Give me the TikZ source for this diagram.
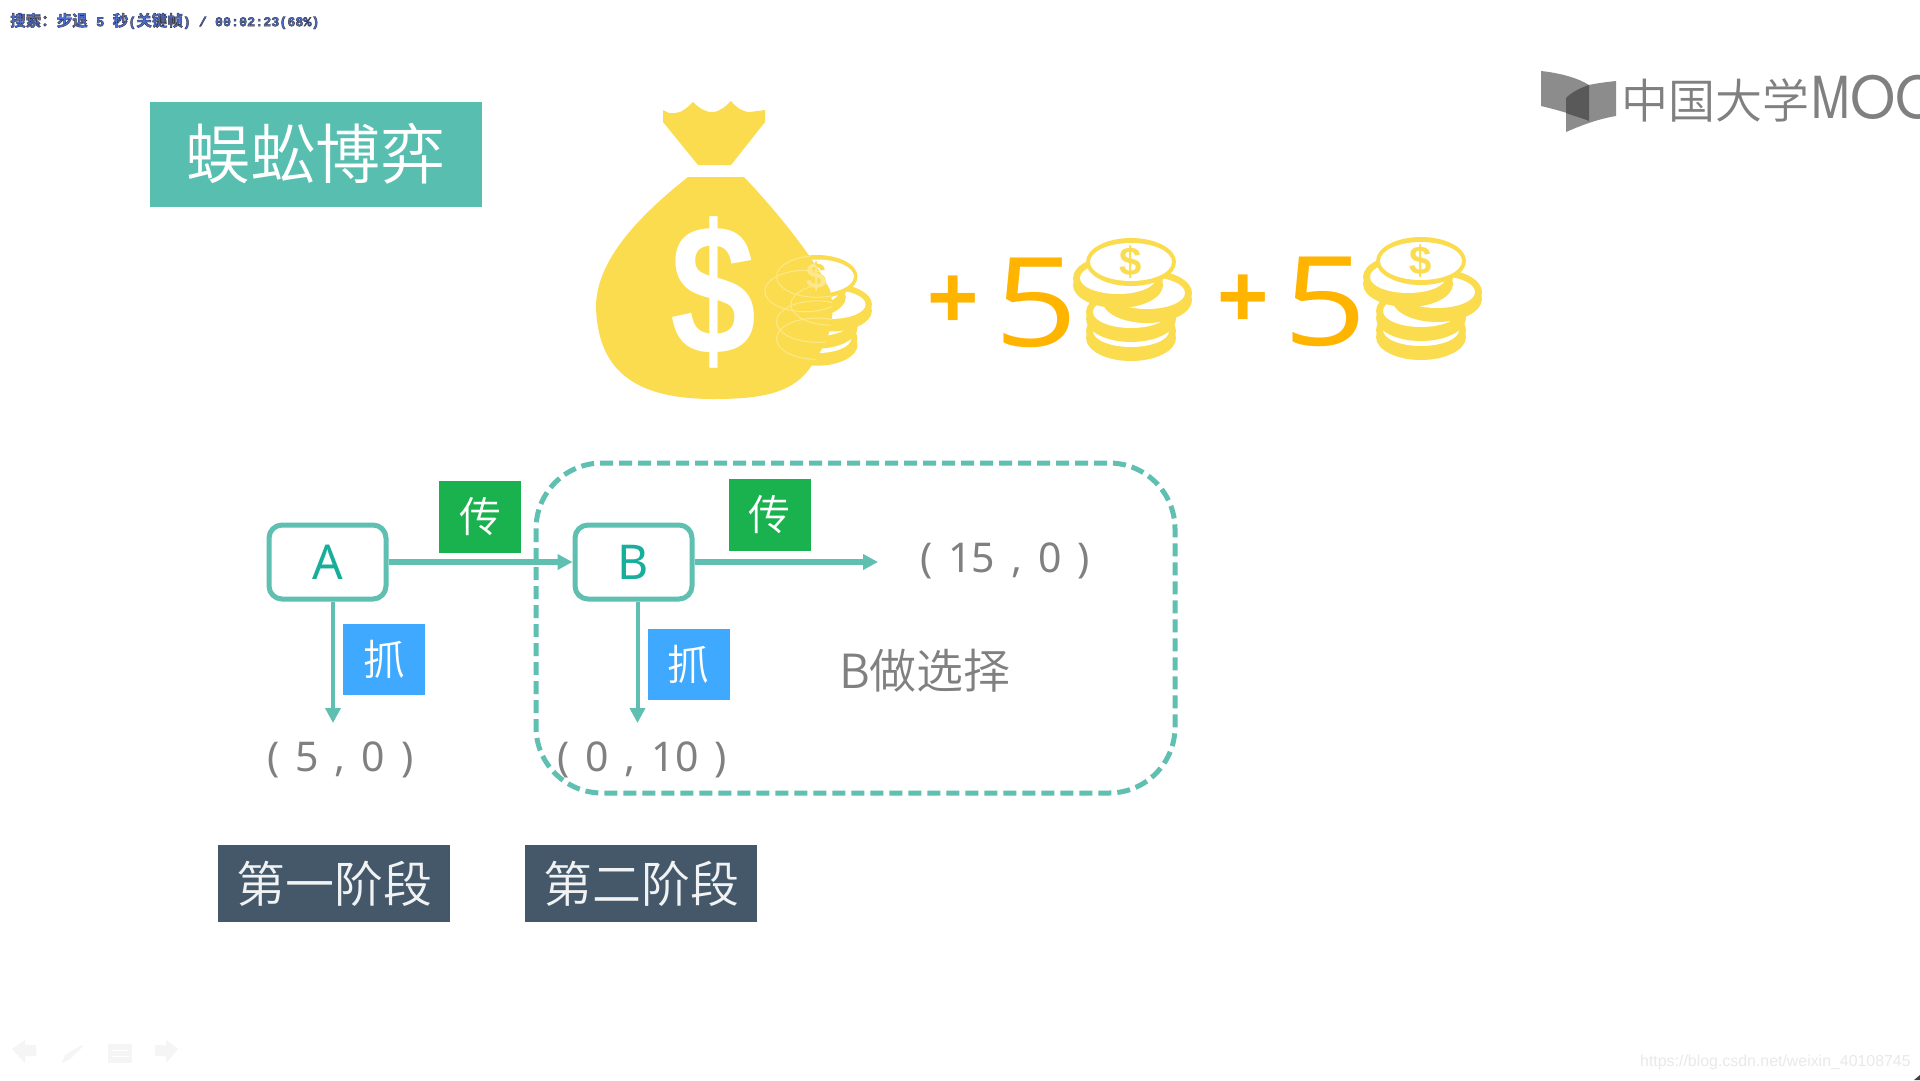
\documentclass[tikz,border=0pt]{standalone}
\usepackage{fontspec}
\setmainfont{Noto Sans}
\newfontfamily\cjk{Noto Sans CJK SC}[UprightFont=* DemiLight,BoldFont=* Bold]
\newfontfamily\cjkb{Noto Sans CJK SC}[UprightFont=* Bold]
\newfontfamily\numf{Noto Sans}
\newfontfamily\dollarf{Liberation Sans}[UprightFont=*]
\newfontfamily\osdmono{Liberation Mono}[UprightFont=* Bold]
\newfontfamily\fivef{Open Sans}
\newfontfamily\logof{TeX Gyre Heros}
\newcommand{\fs}[1]{\fontsize{#1}{#1}\selectfont}
\newcommand{\widesp}{\spaceskip=16pt\relax}
\definecolor{teal1}{HTML}{58BFB0}
\definecolor{teal2}{HTML}{5FBFB0}
\definecolor{tealtxt}{HTML}{17AE9B}
\definecolor{grn}{HTML}{1AB24E}
\definecolor{blu}{HTML}{3FA9FF}
\definecolor{slate}{HTML}{44586A}
\definecolor{gold}{HTML}{FBDC4E}
\definecolor{paleg}{HTML}{FDE88C}
\definecolor{orng}{HTML}{FFB400}
\definecolor{graytxt}{HTML}{808080}
\definecolor{ghost}{HTML}{F5F5F5}
\definecolor{ghost2}{HTML}{E9E9E9}
\definecolor{logoG}{HTML}{8C8C8C}
\definecolor{osdblue}{HTML}{4A6FD8}
\usetikzlibrary{arrows.meta}
\tikzset{
  x=1pt,y=-1pt,
  tag/.style={fill=#1,text=white,inner sep=0pt,font=\cjk\fs{42}},
  phase/.style={fill=slate,text=white!92!slate,inner sep=0pt,minimum width=232pt,minimum height=77pt,font=\cjk\fs{49}},
  player/.style={draw=teal2,line width=5pt,rounded corners=13pt,fill=white,minimum width=117pt,minimum height=74pt,inner sep=0pt,text=tealtxt,font=\numf\fs{48}},
  flow/.style={draw=teal2,line width=4pt,-{Triangle[length=15pt,width=15pt]}},
  flowh/.style={flow,line width=5.5pt},
  pay/.style={text=graytxt,inner sep=0pt,font=\numf\fs{41}},
}
\newcommand{\bagbody}{(688,177) -- (744,177) .. controls (785,220) and (818,265) .. (830,290) .. controls (838,325) and (825,345) .. (812,365) .. controls (795,392) and (765,399) .. (714,399) .. controls (640,399) and (598,375) .. (596,307) .. controls (596,260) and (640,215) .. (688,177) -- cycle}
\newcommand{\coin}[2]{%
  \fill[gold] (#1,#2+7) ellipse [x radius=45pt,y radius=23pt];
  \fill[gold] (#1,#2) ellipse [x radius=45pt,y radius=23pt];
  \fill[white] (#1,#2) ellipse [x radius=38pt,y radius=16pt];
}
\newcommand{\coinstack}[3]{%
  \begin{scope}[shift={(#1,#2)}]
    \coin{1131}{331}\coin{1131}{312}\coin{1147}{293}\coin{1118}{278}
    \fill[gold] (1131,262) ellipse [x radius=45pt,y radius=24pt];
    \fill[white] (1131,262) ellipse [x radius=41pt,y radius=19pt];
    \node[transform shape,text=gold,inner sep=0pt,font=\dollarf\bfseries\fs{40}] (#3) at (1131,262) {\$};
  \end{scope}
}
\begin{document}
\begin{tikzpicture}
\useasboundingbox (0,0) rectangle (1920,1080);
\fill[white] (0,0) rectangle (1920,1080);

% on-screen display line
\node[anchor=west,inner sep=0pt,text=osdblue,font=\cjkb\fs{15.5}] (osd) at (10,21) {\special{pdf:code 2 Tr 0.45 w 0.22 0.22 0.28 RG}搜索：步退\hspace{5pt} {\osdmono\fs{13.4}5}\hspace{5pt} 秒{\osdmono\fs{13.4}(}关键帧{\osdmono\fs{13.4}) / 00:02:23(68\%)}\special{pdf:code 0 Tr}};

% title
\node[fill=teal1,text=white,inner sep=0pt,minimum width=332pt,minimum height=105pt,font=\cjk\fs{65}] (title) at (315.5,154) {\raisebox{-1pt}{蜈蚣博弈}};

% logo
\fill[logoG] (1541,71) .. controls (1560,73) and (1578,78) .. (1589,85) -- (1589,121) .. controls (1575,115) and (1558,110) .. (1541,106) -- cycle;
\fill[logoG] (1616,81) -- (1616,116) .. controls (1598,119) and (1582,125) .. (1566,132) -- (1566,98) .. controls (1572,92) and (1580,88) .. (1589,85) .. controls (1598,83) and (1607,82) .. (1616,81) -- cycle;
\fill[black!65] (1566,98) .. controls (1572,92) and (1580,88) .. (1589,85) -- (1589,121) .. controls (1582,118) and (1574,116) .. (1566,113) -- cycle;
\begin{scope}
  \clip (1600,60) rectangle (1920,140);
  \node[anchor=west,inner sep=0pt,text=graytxt,font=\cjk\fs{47}] (logo) at (1621,99) {中国大学\hspace{2pt}{\logof\fs{58}\scalebox{0.8}[1]{M}\hspace{1pt}OO}};
\end{scope}

% coins behind the bag, then the bag
\begin{scope}[shift={(-200.9,40.8)},scale=0.9]
  \coinstack{0}{0}{dollarA}
\end{scope}
\fill[gold] \bagbody;
\begin{scope}
  \clip \bagbody;
  \foreach \cx/\cy in {817/338.7,817/321.6,831.4/304.5,805.3/291,817/276.6}
    \draw[paleg,line width=1pt] (\cx,\cy) ellipse [x radius=40.5pt,y radius=20.7pt];
  \node[text=paleg,inner sep=0pt,font=\dollarf\bfseries\fs{36}] (dollarB) at (817,276.6) {\$};
\end{scope}
\fill[gold] (663,110) -- (669,113) -- (675,113) .. controls (682,113) and (688,107) .. (693,102) .. controls (698,107) and (704,112) .. (712,112) .. controls (720,112) and (726,106) .. (731,101) .. controls (736,107) and (742,112) .. (750,112) -- (765,110) -- (765,122) -- (731,165) -- (698,165) -- (663,122) -- cycle;
\node[text=white,inner sep=0pt,font=\dollarf\bfseries\fs{172}] (dollar) at (714,292) {\scalebox{0.9}[1.08]{\$}};

% +5 +5
\node[text=orng,inner sep=0pt,font=\dollarf\bfseries\fs{88}] (plusA) at (953,302) {+};
\node[text=orng,inner sep=0pt,font=\fivef\fs{124}] (fiveA) at (1036,303) {\scalebox{1.18}[1]{5}};
\coinstack{0}{0}{dollarC}
\node[text=orng,inner sep=0pt,font=\dollarf\bfseries\fs{88}] (plusB) at (1243,301) {+};
\node[text=orng,inner sep=0pt,font=\fivef\fs{124}] (fiveB) at (1325,302) {\scalebox{1.18}[1]{5}};
\coinstack{290}{-1}{dollarD}

% dashed region
\draw[teal2,line width=5pt,dash pattern=on 13pt off 6pt,rounded corners=66pt] (536,463) rectangle (1175,793);

% game tree
\node[player] (A) at (327.5,562) {A};
\node[player] (B) at (633.5,562) {B};
\node[tag=grn,minimum width=82pt,minimum height=72pt] (c1) at (480,517) {传};
\node[tag=grn,minimum width=82pt,minimum height=72pt] (c2) at (769.5,515) {传};
\node[tag=blu,minimum width=82pt,minimum height=71pt] (z1) at (384,659) {抓};
\node[tag=blu,minimum width=82pt,minimum height=71pt] (z2) at (688.5,664) {抓};
\coordinate (endR) at (878,562);
\coordinate (endA) at (333,723);
\coordinate (endB) at (637.5,723);
\draw[flowh] (A.east) -- (B.west);
\draw[flowh] (B.east) -- (endR);
\draw[flow] (endA |- A.south) -- (endA);
\draw[flow] (endB |- B.south) -- (endB);

\node[pay] (p1) at (340.5,760) {\widesp( 5 , 0 )};
\node[pay] (p2) at (642,760) {\widesp( 0 , 10 )};
\node[pay] (p3) at (1005,561) {\widesp( 15 , 0 )};
\node[text=graytxt,inner sep=0pt,font=\cjk\fs{47}] (choice) at (925,671) {B做选择};

\node[phase] (s1) at (334,883.5) {第一阶段};
\node[phase] (s2) at (641,883.5) {第二阶段};

% faint player controls
\fill[ghost] (12,1049) -- (25,1040) -- (25,1045) -- (36,1045) -- (36,1056) -- (25,1056) -- (25,1063) -- cycle;
\fill[ghost] (62,1063) -- (65,1055) -- (82,1045) -- (83,1046) -- (70,1059) -- cycle;
\fill[ghost] (108,1044) rectangle (132,1063);
\fill[ghost] (155,1045) -- (166,1045) -- (166,1040) -- (178,1049) -- (166,1063) -- (166,1056) -- (155,1056) -- cycle;
\draw[white,line width=1pt] (112,1050) -- (129,1050) (112,1056) -- (129,1056);

% watermark and corner mark
\node[anchor=west,inner sep=0pt,text=ghost2,font=\dollarf\fs{15.9}] (mark) at (1640,1062) {https://blog.csdn.net/weixin\_40108745};
\fill[black!75] (1920,1075) -- (1914,1080) -- (1920,1080) -- cycle;
\end{tikzpicture}
\end{document}
